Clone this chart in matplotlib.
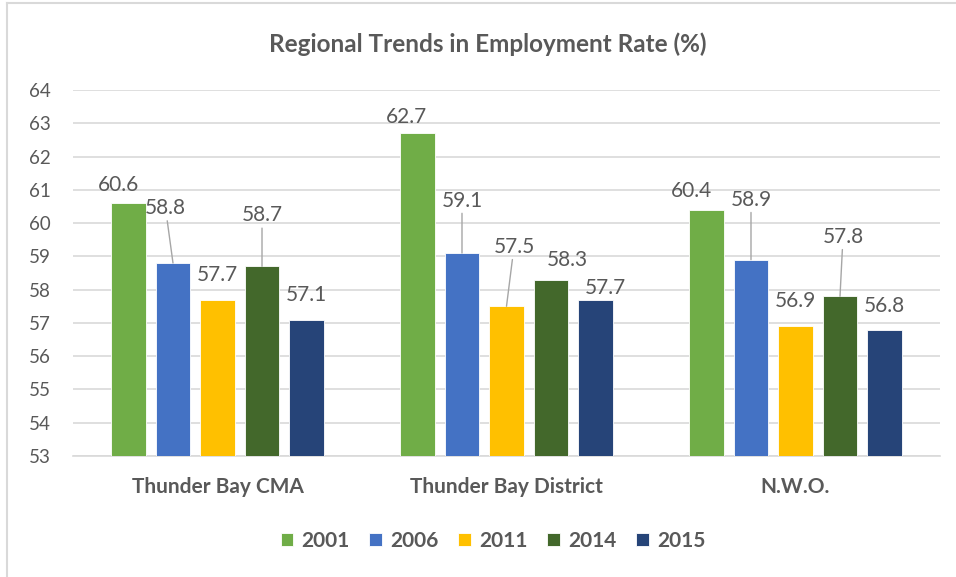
import matplotlib
matplotlib.use('Agg')
import matplotlib.pyplot as plt
import numpy as np
from matplotlib.lines import Line2D

plt.rcParams['font.family'] = ['Lato', 'DejaVu Sans']

# data
regions = ['Thunder Bay CMA', 'Thunder Bay District', 'N.W.O.']
years = ['2001', '2006', '2011', '2014', '2015']
rate_2001 = [60.6, 62.7, 60.4]
rate_2006 = [58.8, 59.1, 58.9]
rate_2011 = [57.7, 57.5, 56.9]
rate_2014 = [58.7, 58.3, 57.8]
rate_2015 = [57.1, 57.7, 56.8]
series = [rate_2001, rate_2006, rate_2011, rate_2014, rate_2015]
colors = ['#70AD47', '#4472C4', '#FFC000', '#43682B', '#264478']

# where each data label sits: (dx, dy) pixels from the bar top, and whether
# it has a leader line (labels were dragged around by hand in the original)
label_pos = {
    (0, 0): (-10, 18, False), (1, 0): (-7.5, 55, True), (2, 0): (0, 24.5, False),
    (3, 0): (0, 51, True), (4, 0): (0, 25, False),
    (0, 1): (-11, 16, False), (1, 1): (0, 52.5, True), (2, 1): (7.5, 59.5, True),
    (3, 1): (16, 19.5, False), (4, 1): (10, 12, False),
    (0, 2): (-15, 19, False), (1, 2): (0, 60, True), (2, 2): (0, 25.5, False),
    (3, 2): (3, 59.5, True), (4, 2): (0, 24, False),
}

text_col = '#595959'
grid_col = '#D9D9D9'

fig = plt.figure(figsize=(9.56, 5.77), dpi=100)
ax = fig.add_axes([73 / 956, 1 - 456 / 577, 867 / 956, 366 / 577])

x = np.arange(len(regions))
pitch = 0.154
width = 0.121
for i, vals in enumerate(series):
    pos = x + (i - 2) * pitch
    ax.bar(pos, [v - 53 for v in vals], width, bottom=53, color=colors[i],
           edgecolor='white', linewidth=0.6, label=years[i], zorder=3)
    for j, v in enumerate(vals):
        dx, dy, leader = label_pos[(i, j)]
        arrow = None
        if leader:
            arrow = dict(arrowstyle='-', color='#A6A6A6', lw=1, shrinkA=0, shrinkB=0)
        ax.annotate(f'{v}', xy=(pos[j], v), xytext=(dx, dy),
                    textcoords='offset pixels', ha='center', va='center',
                    fontsize=15, color=text_col, arrowprops=arrow)

ax.set_xlim(-0.5, 2.5)
ax.set_ylim(53, 64)
ax.set_yticks(range(53, 65))
ax.set_xticks(x)
ax.set_xticklabels(regions, fontsize=15, fontweight='bold', color=text_col)
ax.tick_params(axis='y', labelsize=13.5, colors=text_col, length=0, pad=16)
ax.tick_params(axis='x', length=0, pad=15)
ax.grid(axis='y', color=grid_col, lw=1.2, zorder=0)
for s in ['top', 'right', 'left']:
    ax.spines[s].set_visible(False)
ax.spines['bottom'].set_color(grid_col)
ax.spines['bottom'].set_linewidth(1.2)

fig.text(488 / 956, 1 - 44 / 577, 'Regional Trends in Employment Rate (%)',
         ha='center', va='center', fontsize=17.5, fontweight='bold', color=text_col)

leg = fig.legend(loc='center', bbox_to_anchor=(493 / 956, 1 - 541 / 577), ncol=5,
                 frameon=False, handlelength=0.6, handleheight=0.6,
                 handletextpad=0.4, columnspacing=0.95,
                 prop={'size': 15, 'weight': 'bold'})
for t in leg.get_texts():
    t.set_color(text_col)

# chart border
fig.add_artist(Line2D([7 / 956, 7 / 956], [0, 1 - 3 / 577], color=grid_col, lw=1.5,
                      transform=fig.transFigure))
fig.add_artist(Line2D([7 / 956, 1], [1 - 3 / 577, 1 - 3 / 577], color=grid_col, lw=1.5,
                      transform=fig.transFigure))

fig.savefig('out.png', dpi=100)
